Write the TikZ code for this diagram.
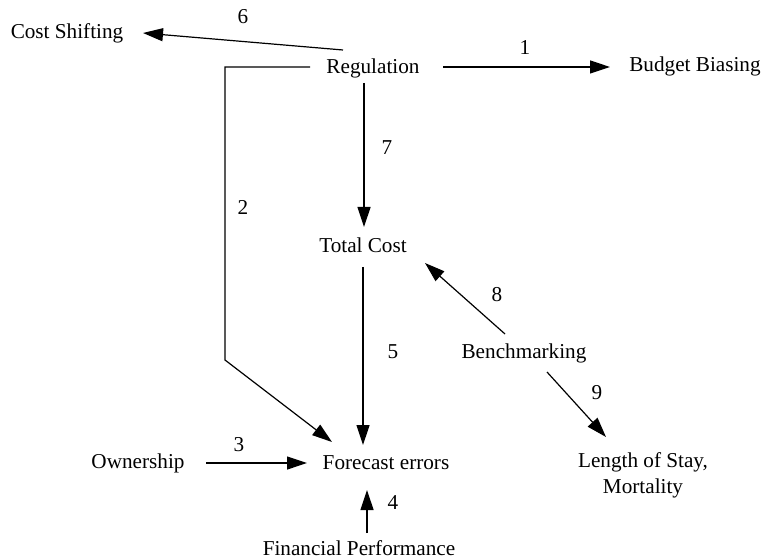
\documentclass[tikz,border=0pt]{standalone}
\usepackage{fontspec}
\setmainfont{Liberation Serif}
\usetikzlibrary{arrows.meta}
\begin{document}
\begin{tikzpicture}[x=0.5pt,y=-0.5pt,
  concept/.style={inner sep=0pt, font=\fontsize{10.6pt}{13pt}\selectfont, align=center},
  num/.style={inner sep=0pt, font=\fontsize{10.6pt}{13pt}\selectfont},
  link/.style={line width=0.6pt, -{Triangle[length=10pt,width=6.5pt]}},
  plain/.style={line width=0.6pt}]
\useasboundingbox (0,0) rectangle (763,560);

% factors
\node[concept] (cs)  at (67,33)   {Cost Shifting};
\node[concept] (reg) at (373,68)  {Regulation};
\node[concept] (bb)  at (695,66)  {Budget Biasing};
\node[concept] (tc)  at (363,245) {Total Cost};
\node[concept] (bm)  at (524,353) {Benchmarking};
\node[concept] (fe)  at (386,463) {Forecast errors};
\node[concept] (own) at (138,463) {Ownership};
\node[concept] (los) at (643,475) {Length of Stay,\\Mortality};
\node[concept] (fp)  at (359,548) {Financial Performance};

% numbered relationships
\draw[link] ([shift={(-30,-18)}]reg.center) -- ([shift={(76,0)}]cs.center);
\node[num] (n6) at (243,17) {6};

\draw[link] ([shift={(70,-1)}]reg.center) -- ([shift={(-85,1)}]bb.center);
\node[num] (n1) at (525,48) {1};

\draw[link] ([shift={(-63,-1)}]reg.center) -- (225,67) -- (225,360) -- ([shift={(-54,-21)}]fe.center);
\node[num] (n2) at (243,207) {2};

\draw[link] ([shift={(-9,15)}]reg.center) -- ([shift={(1,-18)}]tc.center);
\node[num] (n7) at (387,148) {7};

\draw[link] ([shift={(0,22)}]tc.center) -- ([shift={(-23,-18)}]fe.center);
\node[num] (n5) at (393,352) {5};

\draw[link] ([shift={(-19,-19)}]bm.center) -- ([shift={(62,18)}]tc.center);
\node[num] (n8) at (497,295) {8};

\draw[link] ([shift={(23,19)}]bm.center) -- ([shift={(-37,-38)}]los.center);
\node[num] (n9) at (597,393) {9};

\draw[link] ([shift={(68,0)}]own.center) -- ([shift={(-79,0)}]fe.center);
\node[num] (n3) at (239,445) {3};

\draw[link] ([shift={(8,-15)}]fp.center) -- ([shift={(-19,27)}]fe.center);
\node[num] (n4) at (393,503) {4};
\end{tikzpicture}
\end{document}
